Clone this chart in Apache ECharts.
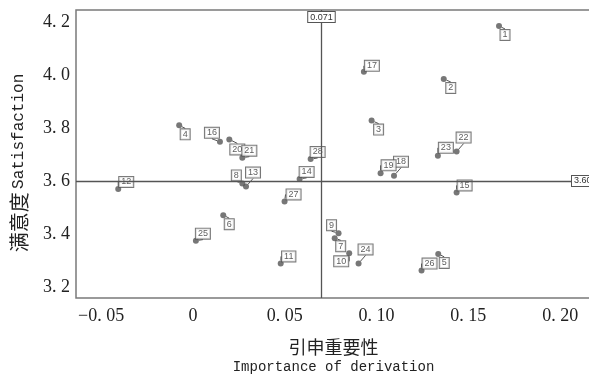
<!DOCTYPE html>
<html>
<head>
<meta charset="utf-8">
<script src="https://cdn.jsdelivr.net/npm/echarts@6/dist/echarts.min.js"></script>
<style>
  html, body { margin: 0; padding: 0; background: #fff; }
  #main { width: 589px; height: 377px; }
</style>
</head>
<body>
<div id="main"></div>
<script>
// 编号
var ids = [1, 2, 3, 4, 5, 6, 7, 8, 9, 10, 11, 12, 13, 14, 15, 16, 17, 18, 19, 20, 21, 22, 23, 24, 25, 26, 27, 28];
// 引申重要性
var importance = [0.1667, 0.1366, 0.0973, -0.0075, 0.1336, 0.0165, 0.0772, 0.0269, 0.0793, 0.0851,
                  0.0478, -0.0407, 0.0289, 0.0581, 0.1436, 0.0147, 0.0931, 0.1095, 0.1022, 0.0198,
                  0.0269, 0.1436, 0.1334, 0.0902, 0.0016, 0.1245, 0.0499, 0.0641];
// 满意度
var satisfaction = [4.185, 3.985, 3.828, 3.810, 3.325, 3.471, 3.384, 3.591, 3.403, 3.327,
                    3.289, 3.570, 3.579, 3.608, 3.557, 3.748, 4.012, 3.620, 3.629, 3.757,
                    3.688, 3.711, 3.695, 3.289, 3.375, 3.262, 3.523, 3.683];
// 均值参考线
var refX = 0.071;
var refY = 3.603;
// 刻度
var xTicks = [-0.05, 0, 0.05, 0.10, 0.15, 0.20];
var yTicks = [3.2, 3.4, 3.6, 3.8, 4.0, 4.2];

// 标签偏移 (px)
var labelShift = {
    1: [6, 9], 2: [7, 9], 3: [7, 9], 4: [6, 9], 5: [6, 9], 6: [6, 9], 7: [6, 8],
    8: [-6, -8], 9: [-7, -8], 10: [-8, 8], 11: [8, -7], 12: [8, -7], 13: [7, -14],
    14: [7, -7], 15: [8, -7], 16: [-8, -9], 17: [8, -6], 18: [7, -14], 19: [8, -8],
    20: [8, 10], 21: [7, -7], 22: [7, -14], 23: [8, -8], 24: [7, -14], 25: [7, -7],
    26: [8, -7], 27: [9, -7], 28: [7, -7]
};

var points = ids.map(function (id, i) {
    return { name: String(id), value: [importance[i], satisfaction[i]] };
});

var serif = '"Liberation Serif", "DejaVu Serif", serif';
var mono = '"Liberation Mono", "DejaVu Sans Mono", monospace';
var cjk = '"Noto Sans CJK SC", sans-serif';

var myChart = echarts.init(document.getElementById('main'));

var boxLabel = {
    fontSize: 9,
    fontFamily: '"Liberation Sans", Arial, sans-serif',
    color: '#333',
    backgroundColor: '#fff',
    borderColor: '#555',
    borderWidth: 1,
    padding: [1, 2, 0, 2]
};

option = {
    backgroundColor: '#fff',
    animation: false,
    grid: {
        left: 76,
        right: -2,
        top: 10,
        bottom: 79,
        outerBoundsMode: 'none',
        show: true,
        borderColor: '#7a7a7a',
        borderWidth: 1.5
    },
    xAxis: {
        type: 'value',
        min: -0.0637,
        max: 0.2168,
        axisLine: { show: false },
        axisTick: { show: false },
        splitLine: { show: false },
        axisLabel: {
            customValues: xTicks,
            margin: 9,
            fontSize: 18,
            fontFamily: serif,
            color: '#222',
            formatter: function (v) {
                if (Math.abs(v) < 1e-9) return '0';
                return (v < 0 ? '\u2212' : '') + Math.abs(v).toFixed(2).replace('.', '. ');
            }
        },
        name: '{cn|引申重要性}\n{en|Importance of derivation}',
        nameLocation: 'middle',
        nameGap: 39,
        nameTextStyle: {
            color: '#222',
            rich: {
                cn: { fontSize: 18, lineHeight: 21, fontFamily: cjk, color: '#222' },
                en: { fontSize: 14, lineHeight: 19, fontFamily: mono, color: '#222' }
            }
        }
    },
    yAxis: {
        type: 'value',
        min: 3.1585,
        max: 4.2453,
        axisLine: { show: false },
        axisTick: { show: false },
        splitLine: { show: false },
        axisLabel: {
            customValues: yTicks,
            margin: 6,
            fontSize: 18,
            fontFamily: serif,
            color: '#222',
            formatter: function (v) {
                return v.toFixed(1).replace('.', '. ');
            }
        },
        name: '{cn|满意度} {en|Satisfaction}',
        nameLocation: 'middle',
        nameRotate: 90,
        nameGap: 47,
        nameTextStyle: {
            color: '#222',
            padding: [0, 18, 0, 0],
            rich: {
                cn: { fontSize: 20, fontFamily: cjk, color: '#222' },
                en: { fontSize: 16, fontFamily: mono, color: '#222' }
            }
        }
    },
    series: [
        {
            type: 'scatter',
            data: points,
            symbolSize: 6,
            itemStyle: { color: '#555' },
            label: Object.assign({
                show: true,
                position: 'inside',
                formatter: '{b}'
            }, boxLabel),
            labelLine: {
                show: true,
                lineStyle: { color: '#555', width: 1 }
            },
            labelLayout: function (params) {
                var s = labelShift[ids[params.dataIndex]] || [7, -7];
                return { dx: s[0], dy: s[1] };
            },
            markLine: {
                silent: true,
                symbol: 'none',
                lineStyle: { color: '#555', type: 'solid', width: 1.3 },
                data: [
                    {
                        xAxis: refX,
                        label: Object.assign({ position: 'end', distance: -12, formatter: String(refX) }, boxLabel)
                    },
                    {
                        yAxis: refY,
                        label: Object.assign({ position: 'end', distance: -19, formatter: String(refY) }, boxLabel)
                    }
                ]
            }
        }
    ]
};

myChart.setOption(option);
</script>
</body>
</html>
